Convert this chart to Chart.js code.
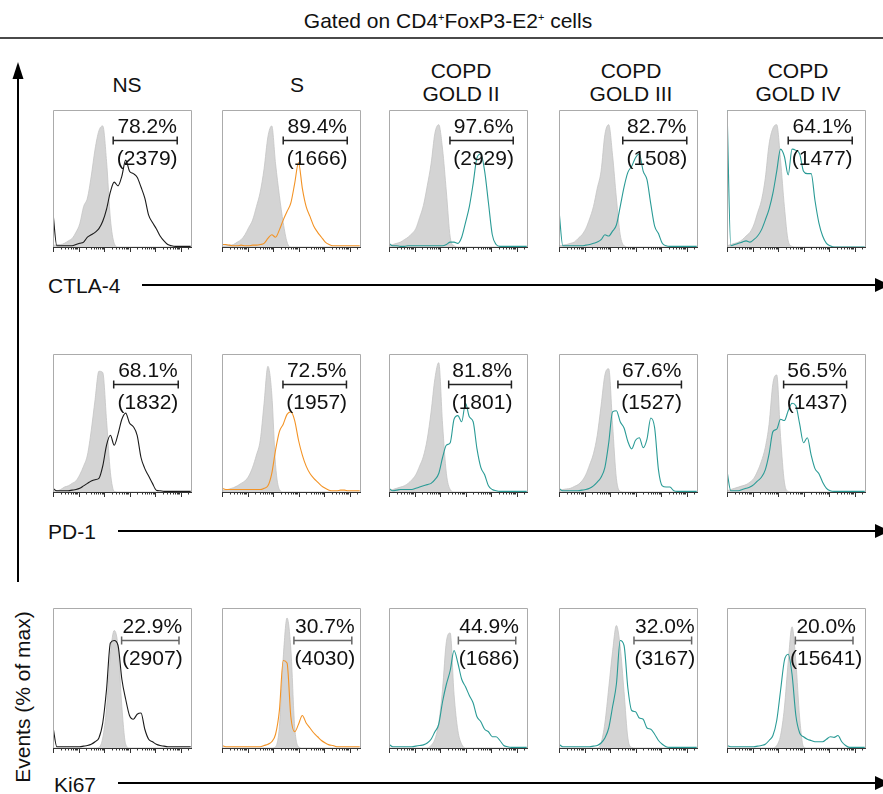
<!DOCTYPE html>
<html lang="en">
<head>
<meta charset="UTF-8">
<title>CTLA-4, PD-1 and Ki67 on CD4+FoxP3-E2+ cells</title>
<script src="https://cdn.jsdelivr.net/npm/chart.js@4.4.1/dist/chart.umd.min.js"></script>
<style>
  html, body { margin: 0; padding: 0; background: #fff; }
  body {
    width: 883px; height: 794px; position: relative; overflow: hidden;
    font-family: "Liberation Sans", Arial, sans-serif; font-size: 21px; color: #111;
  }
  .lbl { position: absolute; line-height: 21px; white-space: nowrap; transform: translate(-50%, -50%); }
  .row-lbl { position: absolute; line-height: 21px; white-space: nowrap; transform: translateY(-50%); }
  .ylbl { position: absolute; line-height: 21px; white-space: nowrap; transform: translate(-50%, -50%) rotate(-90deg); }
  sup { font-size: 11px; vertical-align: 7px; line-height: 0; }
  canvas { position: absolute; }
  svg { position: absolute; left: 0; top: 0; }
</style>
</head>
<body>

<svg width="883" height="794">
  <line x1="0" y1="38" x2="883" y2="38" stroke="#4a4a4a" stroke-width="2"/>
  <line x1="18" y1="78" x2="18" y2="582" stroke="#000" stroke-width="2"/>
  <polygon points="18,62 12.5,79 23.5,79" fill="#000"/>
  <line x1="142" y1="285" x2="876" y2="285" stroke="#000" stroke-width="2"/>
  <polygon points="875,278 875,292 890,285" fill="#000"/>
  <line x1="118" y1="531" x2="876" y2="531" stroke="#000" stroke-width="2"/>
  <polygon points="875,524 875,538 890,531" fill="#000"/>
  <line x1="118" y1="783" x2="876" y2="783" stroke="#000" stroke-width="2"/>
  <polygon points="875,776 875,790 890,783" fill="#000"/>
</svg>

<div class="lbl" style="left:448px; top:20px;">Gated on CD4<sup>+</sup>FoxP3-E2<sup>+</sup> cells</div>

<div id="headers"></div>

<div class="row-lbl" style="left:48px; top:285px;">CTLA-4</div>
<div class="row-lbl" style="left:48px; top:531px;">PD-1</div>
<div class="row-lbl" style="left:54px; top:784px;">Ki67</div>
<div class="ylbl" style="left:22px; top:697px;">Events (% of max)</div>

<script>
// fluorescence bins (log decades) shared by every histogram
const X_BINS = [0, 0.15, 0.3, 0.45, 0.6, 0.75, 0.9, 1.05, 1.2, 1.35,
  1.5, 1.65, 1.8, 1.95, 2.1, 2.25, 2.4, 2.55, 2.7, 2.85,
  3, 3.15, 3.3, 3.45, 3.6, 3.75, 3.9, 4.05, 4.2, 4.35,
  4.5, 4.65, 4.8, 4.95, 5.1, 5.25, 5.4];
const MAJOR_TICKS = [0, 1, 2, 3, 4, 5];

const GROUPS = ['NS', 'S', 'COPD|GOLD II', 'COPD|GOLD III', 'COPD|GOLD IV'];

// ---- CTLA-4 (isotype = grey fill) ----
const isoCtla4NS = [1, 2, 2, 3, 5, 7, 12, 19, 33, 40,
  58, 80, 95, 99, 70, 23, 3, 0, 0, 0,
  0, 0, 0, 0, 0, 0, 0, 0, 0, 0,
  0, 0, 0, 0, 0, 0, 0];
const ctla4NS = [28, 1, 1, 1, 1, 1, 2, 3, 4, 8,
  10, 12, 15, 21, 31, 45, 53, 50, 58, 71,
  62, 60, 57, 49, 40, 26, 20, 15, 9, 5,
  2, 1, 0.5, 0.5, 0.5, 0.5, 0.5];
const isoCtla4S = [0.5, 1, 1.5, 2, 4, 6, 10, 16, 22, 33,
  45, 64, 90, 99, 68, 42, 20, 4, 0, 0,
  0, 0, 0, 0, 0, 0, 0, 0, 0, 0,
  0, 0, 0, 0, 0, 0, 0];
const ctla4S = [2, 2, 1.5, 1, 1, 1.5, 1, 1, 1.5, 1.5,
  2, 3, 7, 10, 8, 14, 22, 29, 36, 52,
  69, 48, 33, 25, 17, 12, 8, 4, 2, 1,
  1, 1, 1, 1, 1, 1, 1];
const isoCtla4G2 = [1, 2, 3, 4, 6, 8, 11, 15, 24, 34,
  50, 68, 93, 100, 80, 45, 8, 1, 0, 0,
  0, 0, 0, 0, 0, 0, 0, 0, 0, 0,
  0, 0, 0, 0, 0, 0, 0];
const ctla4G2 = [3, 1, 1, 0.5, 0.5, 1, 1, 1, 1, 1,
  1, 1, 1, 1, 1, 2, 4, 4, 3, 8,
  20, 33, 52, 73, 76, 62, 36, 10, 2, 0.5,
  0.5, 0.5, 0.5, 0.5, 0.5, 0.5, 0.5];
const isoCtla4G3 = [1, 1.5, 2, 3, 4, 7, 10, 15, 23, 33,
  48, 62, 92, 100, 75, 40, 10, 1, 0, 0,
  0, 0, 0, 0, 0, 0, 0, 0, 0, 0,
  0, 0, 0, 0, 0, 0, 0];
const ctla4G3 = [30, 1, 1, 1, 1, 1, 1, 1.5, 2, 3,
  4, 6, 10, 9, 13, 18, 33, 49, 61, 66,
  73, 76, 62, 55, 35, 17, 11, 3, 1, 0.5,
  0.5, 0.5, 0.5, 0.5, 0.5, 0.5, 0.5];
const isoCtla4G4 = [1, 2, 3, 4, 6, 9, 12, 18, 28, 38,
  56, 84, 97, 100, 71, 33, 5, 0.5, 0, 0,
  0, 0, 0, 0, 0, 0, 0, 0, 0, 0,
  0, 0, 0, 0, 0, 0, 0];
const ctla4G4 = [115, 1, 2, 3, 4, 5, 4, 6, 9, 14,
  22, 31, 44, 62, 80, 74, 59, 80, 79, 76,
  62, 60, 60, 38, 20, 9, 3, 1, 0, 0,
  0, 0, 0, 0, 0, 0, 0];
const ctla4Pct = [78.2, 89.4, 97.6, 82.7, 64.1];
const ctla4Mfi = [2379, 1666, 2929, 1508, 1477];
const ctla4GateLo = [2.36, 2.40, 2.39, 2.50, 2.40];
const ctla4GateHi = [4.87, 4.91, 4.87, 5.01, 4.91];

// ---- PD-1 ----
const isoPd1NS = [1, 1, 2, 4, 5, 7, 9, 14, 21, 30,
  50, 75, 98, 97, 58, 16, 0.5, 0, 0, 0,
  0, 0, 0, 0, 0, 0, 0, 0, 0, 0,
  0, 0, 0, 0, 0, 0, 0];
const pd1NS = [3, 1, 1, 1, 1, 1.5, 2, 3, 5, 7,
  9, 10, 11, 21, 38, 46, 38, 47, 59, 64,
  56, 53, 46, 28, 19, 13, 7, 1.5, 1, 0.5,
  0.5, 0.5, 0.5, 0.5, 0.5, 0.5, 0.5];
const isoPd1S = [1, 1.5, 2.5, 3.5, 5, 7, 9, 13, 20, 30,
  42, 72, 102, 80, 22, 2, 0, 0, 0, 0,
  0, 0, 0, 0, 0, 0, 0, 0, 0, 0,
  0, 0, 0, 0, 0, 0, 0];
const pd1S = [3, 2, 2, 2, 2, 2, 2, 2, 2, 2,
  2, 3, 5, 15, 34, 49, 55, 63, 65, 58,
  42, 30, 21, 15, 11, 8, 5, 3, 1.5, 1,
  1, 1.5, 1.5, 1, 1, 1, 1];
const isoPd1G2 = [1, 2, 3, 4, 5, 7, 10, 14, 21, 29,
  43, 65, 92, 105, 55, 15, 2, 0, 0, 0,
  0, 0, 0, 0, 0, 0, 0, 0, 0, 0,
  0, 0, 0, 0, 0, 0, 0];
const pd1G2 = [3, 1, 1.5, 2, 2, 2, 2, 3, 4, 5,
  6, 7, 10, 15, 28, 38, 40, 59, 62, 57,
  72, 61, 57, 35, 20, 14, 5, 2, 1, 0.5,
  0.5, 0.5, 0.5, 0.5, 0.5, 0.5, 0.5];
const isoPd1G3 = [1, 2, 2.5, 3, 4.5, 6, 9, 14, 22, 31,
  46, 70, 95, 100, 55, 11, 0.5, 0, 0, 0,
  0, 0, 0, 0, 0, 0, 0, 0, 0, 0,
  0, 0, 0, 0, 0, 0, 0];
const pd1G3 = [3, 1, 1, 1, 1, 1, 1.5, 2, 3, 5,
  8, 12, 20, 40, 65, 66, 57, 52, 41, 35,
  42, 44, 36, 43, 60, 52, 18, 5, 4, 4,
  1, 0.5, 0.5, 0.5, 0.5, 0.5, 0.5];
const isoPd1G4 = [1, 2, 3, 4, 5, 6, 8, 11, 17, 25,
  36, 55, 88, 95, 45, 8, 0.5, 0, 0, 0,
  0, 0, 0, 0, 0, 0, 0, 0, 0, 0,
  0, 0, 0, 0, 0, 0, 0];
const pd1G4 = [17, 1, 1, 1, 2, 3, 4, 6, 9, 12,
  18, 31, 49, 51, 59, 58, 66, 72, 70, 55,
  40, 44, 30, 19, 15, 8, 3, 1, 0.5, 0.5,
  0.5, 0.5, 0.5, 0.5, 0.5, 0.5, 0.5];
const pd1Pct = [68.1, 72.5, 81.8, 67.6, 56.5];
const pd1Mfi = [1832, 1957, 1801, 1527, 1437];
const pd1GateLo = [2.38, 2.39, 2.34, 2.31, 2.22];
const pd1GateHi = [4.91, 4.88, 4.80, 4.80, 4.69];

// ---- Ki67 ----
const isoKi67NS = [0, 0, 0, 0, 0, 0, 0, 0, 0, 0,
  0, 0, 0.5, 8, 32, 75, 94, 81, 33, 3,
  0, 0, 0, 0, 0, 0, 0, 0, 0, 0,
  0, 0, 0, 0, 0, 0, 0];
const ki67NS = [17, 1, 1, 1, 1, 1, 1, 1, 1.5, 2,
  3, 5, 8, 20, 47, 84, 86, 82, 55, 39,
  26, 23, 27, 28, 15, 7, 5, 3, 2, 1.5,
  1, 1, 1, 1, 1, 1, 1];
const isoKi67S = [0, 0, 0, 0, 0, 0, 0, 0, 0, 0,
  0, 0, 0, 0, 1, 17, 72, 104, 79, 17,
  1, 0, 0, 0, 0, 0, 0, 0, 0, 0,
  0, 0, 0, 0, 0, 0, 0];
const ki67S = [2, 1, 1, 1, 1, 1, 1, 1, 1, 1,
  1, 2, 3, 5, 11, 30, 70, 68, 25, 13,
  19, 26, 20, 16, 12, 9, 6, 4, 2.5, 2,
  1, 1, 1, 1, 1, 1, 1];
const isoKi67G2 = [0, 0, 0, 0, 0, 0, 0, 0, 0, 0,
  0, 2, 7, 20, 47, 85, 92, 43, 14, 3,
  0, 0, 0, 0, 0, 0, 0, 0, 0, 0,
  0, 0, 0, 0, 0, 0, 0];
const ki67G2 = [3, 1, 1, 1, 1, 1, 1, 1.5, 2, 2.5,
  4, 7, 13, 19, 37, 51, 62, 78, 68, 55,
  49, 42, 36, 25, 21, 15, 13, 9, 9, 6,
  2, 1, 0.5, 0.5, 0.5, 0.5, 0.5];
const isoKi67G3 = [0, 0, 0, 0, 0, 0, 0, 0, 0, 0,
  0, 4, 20, 48, 77, 98, 81, 45, 8, 0.5,
  0, 0, 0, 0, 0, 0, 0, 0, 0, 0,
  0, 0, 0, 0, 0, 0, 0];
const ki67G3 = [3, 1, 1, 1, 1, 1, 1, 1, 1, 1.5,
  2, 4, 8, 16, 33, 51, 86, 82, 48, 30,
  29, 24, 23, 16, 15, 11, 6, 3, 1, 0.5,
  0.5, 0.5, 0.5, 0.5, 0.5, 0.5, 0.5];
const isoKi67G4 = [0, 0, 0, 0, 0, 0, 0, 0, 0, 0,
  0, 0, 0, 2, 10, 32, 69, 97, 69, 24,
  1, 0, 0, 0, 0, 0, 0, 0, 0, 0,
  0, 0, 0, 0, 0, 0, 0];
const ki67G4 = [2, 1, 1, 1, 1, 1, 1, 1, 1.5, 2,
  3, 6, 10, 22, 46, 70, 75, 59, 26, 12,
  9, 7, 6, 5, 5, 5, 7, 9, 8.5, 10,
  5, 2, 0.5, 0.5, 0.5, 0.5, 0.5];
const ki67Pct = [22.9, 30.7, 44.9, 32.0, 20.0];
const ki67Mfi = [2907, 4030, 1686, 3167, 15641];
const ki67GateLo = [2.69, 2.82, 2.72, 2.94, 2.68];
const ki67GateHi = [4.94, 5.09, 4.97, 5.20, 4.94];

// ---- layout / styling ----
const COL_LEFT = [53, 222, 389, 559, 727];
const COL_HEAD_X = [127, 297, 461, 631, 798];
const ROW_TOP = [110, 354, 608];
const ROW_H = [137, 138, 140];
const PANEL_W = 139;
const LINE_COLORS = ['#1a1a1a', '#f39325', '#2a9b96', '#2a9b96', '#2a9b96'];
const FONT = '21px "Liberation Sans", Arial, sans-serif';

const rows = [
  { iso: [isoCtla4NS, isoCtla4S, isoCtla4G2, isoCtla4G3, isoCtla4G4],
    cells: [ctla4NS, ctla4S, ctla4G2, ctla4G3, ctla4G4],
    pct: ctla4Pct, mfi: ctla4Mfi, lo: ctla4GateLo, hi: ctla4GateHi,
    gateY: 29.5, gateColor: '#222' },
  { iso: [isoPd1NS, isoPd1S, isoPd1G2, isoPd1G3, isoPd1G4],
    cells: [pd1NS, pd1S, pd1G2, pd1G3, pd1G4],
    pct: pd1Pct, mfi: pd1Mfi, lo: pd1GateLo, hi: pd1GateHi,
    gateY: 29.5, gateColor: '#222' },
  { iso: [isoKi67NS, isoKi67S, isoKi67G2, isoKi67G3, isoKi67G4],
    cells: [ki67NS, ki67S, ki67G2, ki67G3, ki67G4],
    pct: ki67Pct, mfi: ki67Mfi, lo: ki67GateLo, hi: ki67GateHi,
    gateY: 32, gateColor: '#666' }
];

// column headers
const headers = document.getElementById('headers');
GROUPS.forEach((g, c) => {
  const lines = g.split('|');
  lines.forEach((t, k) => {
    const d = document.createElement('div');
    d.className = 'lbl';
    d.textContent = t;
    d.style.left = COL_HEAD_X[c] + 'px';
    d.style.top = (lines.length === 1 ? 84 : 70 + k * 23) + 'px';
    headers.appendChild(d);
  });
});

// frame, log ticks and the marker gate with its labels
const panelPlugin = {
  id: 'panel',
  afterDraw(chart, args, opts) {
    const { ctx, chartArea: a, scales: { x } } = chart;
    ctx.save();
    ctx.lineWidth = 1;
    ctx.strokeStyle = '#ababab';
    ctx.beginPath();
    ctx.moveTo(a.left + 0.5, a.bottom);
    ctx.lineTo(a.left + 0.5, a.top + 0.5);
    ctx.lineTo(a.right - 0.5, a.top + 0.5);
    ctx.lineTo(a.right - 0.5, a.bottom);
    ctx.stroke();

    ctx.strokeStyle = '#333';
    ctx.beginPath();
    ctx.moveTo(a.left, a.bottom + 0.5);
    ctx.lineTo(a.right, a.bottom + 0.5);
    MAJOR_TICKS.forEach(d => {
      const px = Math.round(x.getPixelForValue(d)) + 0.5;
      ctx.moveTo(px, a.bottom);
      ctx.lineTo(px, a.bottom + 5);
      for (let k = 2; k <= 9; k++) {
        const v = d + Math.log10(k);
        if (v > x.max) break;
        const pm = Math.round(x.getPixelForValue(v)) + 0.5;
        ctx.moveTo(pm, a.bottom);
        ctx.lineTo(pm, a.bottom + 2.5);
      }
    });
    ctx.stroke();

    const x1 = x.getPixelForValue(opts.lo);
    const x2 = x.getPixelForValue(opts.hi);
    const gy = Math.round(a.top + opts.gateY) + 0.5;
    ctx.strokeStyle = opts.gateColor;
    ctx.lineWidth = 1.5;
    ctx.beginPath();
    ctx.moveTo(x1, gy); ctx.lineTo(x2, gy);
    ctx.moveTo(x1, gy - 4); ctx.lineTo(x1, gy + 4);
    ctx.moveTo(x2, gy - 4); ctx.lineTo(x2, gy + 4);
    ctx.stroke();

    const cx = (x1 + x2) / 2 + 2;
    ctx.font = FONT;
    ctx.fillStyle = '#111';
    ctx.textAlign = 'center';
    ctx.textBaseline = 'alphabetic';
    ctx.fillText(opts.pct.toFixed(1) + '%', cx, gy - 7.5);
    ctx.fillText('(' + opts.mfi + ')', cx, gy + 24);
    ctx.restore();
  }
};

const toPoints = vals => vals.map((v, i) => ({ x: X_BINS[i], y: v }));

rows.forEach((row, r) => {
  GROUPS.forEach((g, c) => {
    const cv = document.createElement('canvas');
    cv.width = PANEL_W + 2;
    cv.height = ROW_H[r] + 8;
    cv.style.left = (COL_LEFT[c] - 1) + 'px';
    cv.style.top = (ROW_TOP[r] - 1) + 'px';
    document.body.appendChild(cv);

    new Chart(cv, {
      type: 'line',
      data: {
        datasets: [
          {
            data: toPoints(row.cells[c]),
            borderColor: LINE_COLORS[c],
            borderWidth: 1.1,
            pointRadius: 0,
            fill: false,
            cubicInterpolationMode: 'monotone'
          },
          {
            data: toPoints(row.iso[c]),
            borderColor: '#c4c4c4',
            borderWidth: 0.8,
            backgroundColor: '#d4d4d4',
            pointRadius: 0,
            fill: 'origin',
            cubicInterpolationMode: 'monotone'
          }
        ]
      },
      options: {
        responsive: false,
        animation: false,
        devicePixelRatio: 1,
        layout: { padding: { left: 1, right: 1, top: 1, bottom: 7 } },
        scales: {
          x: { type: 'linear', min: 0, max: 5.45, display: false },
          y: { min: 0, max: 112, display: false }
        },
        plugins: {
          legend: { display: false },
          tooltip: { enabled: false },
          panel: {
            lo: row.lo[c], hi: row.hi[c],
            pct: row.pct[c], mfi: row.mfi[c],
            gateY: row.gateY, gateColor: row.gateColor
          }
        }
      },
      plugins: [panelPlugin]
    });
  });
});
</script>
</body>
</html>
